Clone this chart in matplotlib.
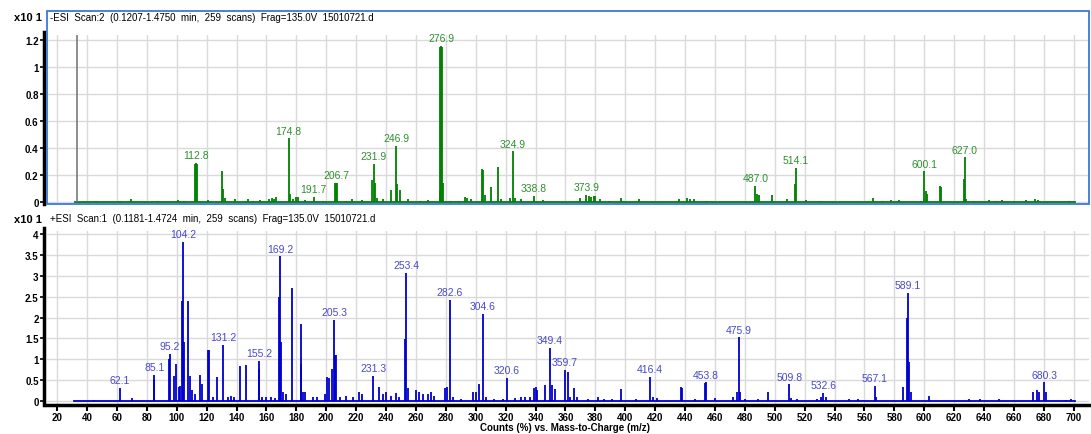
import numpy as np
import matplotlib.pyplot as plt
from matplotlib.patches import Rectangle

plt.rcParams['font.family'] = ['Liberation Sans', 'DejaVu Sans']

# negative mode scan (top)
neg_title = "-ESI  Scan:2  (0.1207-1.4750  min,  259  scans)  Frag=135.0V  15010721.d"
neg_mz = [46, 62, 69.5, 87.6, 101, 105, 112.3, 112.8, 113.3, 121, 130.5, 131.2, 132.5, 139, 148, 151,
          156, 162, 163.5, 165, 166.5, 174.8, 175.6, 178, 180, 181, 186, 191.7, 198, 206.2, 206.7,
          207.2, 213, 217, 224, 230.8, 231.9, 232.6, 234, 238, 243.6, 246.9, 247.5, 249.2, 255, 263,
          268, 276.0, 276.4, 276.9, 277.4, 277.9, 283, 289, 293, 294, 297, 304.5, 305, 306, 310.2,
          315.1, 317, 323, 324.9, 326, 330, 338.8, 345, 370, 373.9, 376, 377, 379, 380, 383, 389, 397,
          409, 436, 441, 443, 446, 454, 487.0, 488, 489.5, 498, 508, 513.5, 514.1, 521, 530, 565.8,
          572, 578, 583, 598, 600.1, 601, 602, 610.5, 611, 626.5, 627.0, 628, 633, 643, 648, 652,
          660, 668, 674, 676, 697]
neg_int = [0.01, 0.008, 0.02, 0.01, 0.012, 0.008, 0.28, 0.289, 0.28, 0.012, 0.227, 0.10, 0.03, 0.02,
           0.025, 0.01, 0.015, 0.025, 0.03, 0.02, 0.035, 0.472, 0.06, 0.02, 0.035, 0.04, 0.015, 0.037,
           0.01, 0.14, 0.14, 0.14, 0.01, 0.02, 0.015, 0.16, 0.284, 0.14, 0.03, 0.02, 0.09, 0.417, 0.13,
           0.09, 0.02, 0.01, 0.012, 0.08, 1.15, 1.158, 1.15, 0.14, 0.01, 0.01, 0.035, 0.03, 0.02, 0.244,
           0.24, 0.05, 0.11, 0.257, 0.02, 0.03, 0.375, 0.03, 0.02, 0.047, 0.015, 0.03, 0.055, 0.045,
           0.035, 0.045, 0.045, 0.025, 0.01, 0.03, 0.02, 0.025, 0.03, 0.02, 0.025, 0.01, 0.12, 0.06,
           0.05, 0.055, 0.02, 0.13, 0.254, 0.015, 0.01, 0.03, 0.01, 0.015, 0.015, 0.01, 0.227, 0.08,
           0.06, 0.12, 0.11, 0.17, 0.331, 0.02, 0.01, 0.015, 0.01, 0.015, 0.01, 0.015, 0.02, 0.015, 0.01]
neg_labels = [112.8, 174.8, 191.7, 206.7, 231.9, 246.9, 276.9, 324.9, 338.8, 373.9, 487.0, 514.1, 600.1, 627.0]
neg_range = [32.0, 701.0]
neg_marker = 33.3
neg_yticks = [0, 0.2, 0.4, 0.6, 0.8, 1, 1.2]
neg_ylabels = ['0', '0.2', '0.4', '0.6', '0.8', '1', '1.2']

# positive mode scan (bottom)
pos_title = "+ESI  Scan:1  (0.1181-1.4724  min,  259  scans)  Frag=135.0V  15010721.d"
pos_mz = [45, 62.1, 69.9, 84.6, 85.1, 94.7, 95.2, 98.2, 99.3, 101.5, 102.5, 103.7, 104.2, 104.8, 107.8,
          108.6, 110, 112, 115.8, 117, 120.8, 121.3, 124, 126.9, 131.2, 134, 136, 138, 142.5, 146.5,
          154.8, 155.2, 157, 160, 163, 166, 168.7, 169.2, 169.6, 171, 173, 177.2, 182.8, 183.4, 184.5,
          186, 191, 194, 199, 200.8, 201.6, 203.8, 205.3, 205.9, 206.5, 209, 213, 218, 222, 224, 231.3,
          235, 238, 240, 243, 247, 249, 252.8, 253.4, 255, 260, 262, 265, 268, 270, 272, 279.5, 280.8,
          282.6, 285, 290, 298, 300, 302.2, 304.6, 307, 312, 318, 320.6, 326, 330, 333, 336, 339, 340,
          341, 346.2, 349.4, 350.7, 352.8, 359.7, 362, 363, 365.5, 368, 375, 382, 386, 391, 397.5, 407,
          416.4, 418.5, 421, 437.5, 438, 447, 453.3, 453.8, 460, 472, 474.5, 475.9, 476.8, 480, 489,
          495.5, 509.8, 511, 515, 528, 531, 532.6, 534, 550, 556, 567.1, 568, 585.6, 588.4, 589.1,
          589.6, 591, 603, 630, 637, 650, 672.8, 675.5, 677, 680.3, 681.2, 695, 698]
pos_int = [0.02, 0.305, 0.06, 0.5, 0.625, 1.0, 1.12, 0.6, 0.88, 0.33, 0.35, 2.40, 3.81, 1.40, 2.40,
           0.6, 0.25, 0.15, 0.625, 0.4, 1.23, 1.23, 0.1, 0.56, 1.35, 0.1, 0.12, 0.1, 0.83, 0.86,
           0.76, 0.96, 0.1, 0.08, 0.1, 0.06, 2.5, 3.47, 1.40, 0.2, 0.15, 2.70, 0.88, 1.84, 0.22,
           0.2, 0.1, 0.08, 0.15, 0.56, 0.55, 0.76, 1.94, 1.1, 1.1, 0.1, 0.12, 0.08, 0.2, 0.15, 0.6,
           0.33, 0.15, 0.2, 0.12, 0.18, 0.1, 1.48, 3.07, 0.3, 0.25, 0.2, 0.15, 0.15, 0.2, 0.12, 0.3, 0.33,
           2.42, 0.1, 0.05, 0.2, 0.22, 0.4, 2.08, 0.1, 0.05, 0.05, 0.55, 0.06, 0.1, 0.08, 0.1, 0.3, 0.33,
           0.25, 0.38, 1.27, 0.38, 0.28, 0.74, 0.68, 0.1, 0.3, 0.1, 0.05, 0.1, 0.05, 0.05, 0.28, 0.05,
           0.58, 0.1, 0.06, 0.33, 0.3, 0.05, 0.42, 0.44, 0.06, 0.08, 0.2, 1.52, 0.2, 0.05, 0.04,
           0.2, 0.39, 0.06, 0.03, 0.05, 0.1, 0.18, 0.08, 0.03, 0.04, 0.36, 0.1, 0.33, 1.98, 2.6,
           0.92, 0.2, 0.12, 0.03, 0.05, 0.03, 0.2, 0.26, 0.2, 0.44, 0.2, 0.02, 0.03]
pos_labels = [62.1, 85.1, 95.2, 104.2, 131.2, 155.2, 169.2, 205.3, 231.3, 253.4, 282.6, 304.6, 320.6,
              349.4, 359.7, 416.4, 453.8, 475.9, 509.8, 532.6, 567.1, 589.1, 680.3]
pos_range = [31.3, 701.0]
pos_yticks = [0, 0.5, 1, 1.5, 2, 2.5, 3, 3.5, 4]
pos_ylabels = ['0', '0.5', '1', '1.5', '2', '2.5', '3', '3.5', '4']

mz_ticks = list(range(20, 701, 20))
xlim = (13.24, 710.2)

W, H = 1091, 435
fig = plt.figure(figsize=(W / 100, H / 100), dpi=100)


def box(l, t, r, b):
    return [l / W, 1 - b / H, (r - l) / W, (b - t) / H]


def panel(ax, mz, inten, labels, rng, color, lcolor, yticks, ylabels, ylim, gtop, title, ty):
    ax.set_xlim(*xlim)
    ax.set_ylim(*ylim)
    ax.set_axisbelow(True)
    ax.set_xticks(mz_ticks)
    ax.set_yticks(yticks)
    ax.set_yticklabels(ylabels)
    ax.grid(True, color='#dadada', lw=1.0)
    # blank header strip above the grid
    ax.add_patch(Rectangle((xlim[0], gtop), xlim[1] - xlim[0], ylim[1] - gtop,
                           facecolor='white', edgecolor='none', zorder=1))
    ax.plot(rng, [0, 0], color=color, lw=1.3, zorder=2)
    ax.vlines(mz, 0, inten, color=color, lw=1.3, zorder=2)
    mz_a = np.array(mz)
    in_a = np.array(inten)
    for lab in labels:
        h = in_a[np.abs(mz_a - lab) < 1.0].max()
        ax.annotate(f"{lab:.1f}", (lab, h), xytext=(0, 2), textcoords='offset points',
                    ha='center', va='bottom', fontsize=7.5, color=lcolor, zorder=4)
    ax.text(0.003, ty, title, transform=ax.transAxes, fontsize=7, va='center', ha='left')
    for s in ['top', 'right']:
        ax.spines[s].set_visible(False)
    ax.spines['left'].set_color('black')
    ax.spines['left'].set_linewidth(2.5)
    ax.spines['left'].set_position(('outward', 2))
    ax.spines['left'].set_bounds(ylim[0], gtop + (ylim[1] - gtop) * 0.12)
    ax.tick_params(axis='y', direction='out', length=3, width=1.2, colors='black', pad=1,
                   labelsize=7)
    for t in ax.get_yticklabels():
        t.set_fontweight('bold')


# top panel
ax1 = fig.add_axes(box(47, 12, 1089, 205))
panel(ax1, neg_mz, neg_int, neg_labels, neg_range, '#008000', '#2f8f2f',
      neg_yticks, neg_ylabels, (-0.0148, 1.4148), 1.237, neg_title, 0.969)
ax1.vlines(neg_marker, 0, 1.237, color='#7a7a7a', lw=1.2, zorder=3)
ax1.spines['bottom'].set_visible(False)
ax1.tick_params(axis='x', length=0, labelbottom=False)
ax1.add_patch(Rectangle((0, 0), 1, 1, transform=ax1.transAxes, fill=False,
                        edgecolor='#3c78d8', lw=1.3, clip_on=False, zorder=5))

# bottom panel
ax2 = fig.add_axes(box(47, 208, 1089, 406))
panel(ax2, pos_mz, pos_int, pos_labels, pos_range, '#0000d0', '#4848cc',
      pos_yticks, pos_ylabels, (-0.103, 4.656), 4.087, pos_title, 0.944)
ax2.spines['bottom'].set_color('black')
ax2.spines['bottom'].set_linewidth(2.5)
ax2.tick_params(axis='x', direction='out', length=4, width=1.5, colors='black', pad=1,
                labelsize=7)
for t in ax2.get_xticklabels():
    t.set_fontweight('bold')

fig.text(42 / W, 1 - 18 / H, "x10 1", ha='right', va='center', fontsize=8, fontweight='bold')
fig.text(42 / W, 1 - 220 / H, "x10 1", ha='right', va='center', fontsize=8, fontweight='bold')
fig.text(565 / W, 1 - 428 / H, "Counts (%) vs. Mass-to-Charge (m/z)", ha='center', va='center',
         fontsize=7, fontweight='bold')

fig.savefig('out.png', dpi=100)
